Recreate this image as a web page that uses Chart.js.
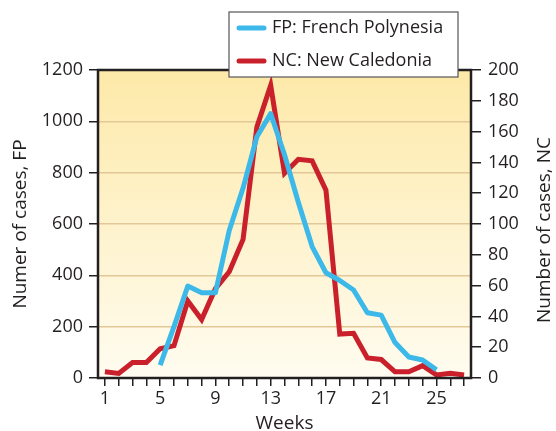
<!DOCTYPE html>
<html>
<head>
<meta charset="utf-8">
<script src="https://cdn.jsdelivr.net/npm/chart.js@4.4.1/dist/chart.umd.min.js"></script>
<style>
  html, body { margin: 0; padding: 0; background: #ffffff; }
  #wrap { width: 556px; height: 431px; position: relative; }
</style>
</head>
<body>
<div id="wrap"><canvas id="c" width="556" height="431"></canvas></div>
<script>
// ---- data ----
const weeks = [1,2,3,4,5,6,7,8,9,10,11,12,13,14,15,16,17,18,19,20,21,22,23,24,25,26,27];
const fpWeeks = [5,6,7,8,9,10,11,12,13,14,15,16,17,18,19,20,21,22,23,24,25];
const fpCases = [50,200,358,332,332,575,740,940,1030,870,685,512,410,380,343,254,245,138,82,70,32];
const ncCases = [4,3,10,10,19,21,50,38,58,69,90,163,190,133,142,141,122,28.5,29,13,12,4,4,8,2,3,2];
const weekTickLabels = [1,5,9,13,17,21,25];
const fpTicks = [0,200,400,600,800,1000,1200];
const ncTicks = [0,20,40,60,80,100,120,140,160,180,200];
const seriesLabels = ['FP: French Polynesia', 'NC: New Caledonia'];
const axisTitles = { x: 'Weeks', y: 'Numer of cases, FP', y1: 'Number of cases, NC' };

const FONT = '"Open Sans", "Noto Sans", sans-serif';
const INK = '#231f20';

const bgPlugin = {
  id: 'bg',
  beforeDraw(chart) {
    const {ctx, chartArea: a} = chart;
    const g = ctx.createLinearGradient(0, a.top, 0, a.bottom);
    g.addColorStop(0, '#fde9a8');
    g.addColorStop(1, '#fffcf0');
    ctx.save();
    ctx.fillStyle = g;
    ctx.fillRect(a.left, a.top, a.right - a.left, a.bottom - a.top);
    ctx.restore();
  },
  afterDatasetsDraw(chart) {
    const {ctx, chartArea: a} = chart;
    ctx.save();
    ctx.strokeStyle = INK;
    ctx.lineWidth = 2.5;
    ctx.strokeRect(a.left, a.top, a.right - a.left, a.bottom - a.top);
    ctx.restore();
  }
};

// right-axis title, reading bottom-to-top like the reference
const rightTitlePlugin = {
  id: 'rightTitle',
  afterDraw(chart) {
    const ctx = chart.ctx;
    const a = chart.chartArea;
    ctx.save();
    ctx.translate(545, (a.top + a.bottom) / 2 + 6);
    ctx.rotate(-Math.PI / 2);
    ctx.font = '19px ' + FONT;
    ctx.fillStyle = INK;
    ctx.textAlign = 'center';
    ctx.textBaseline = 'middle';
    ctx.fillText(axisTitles.y1, 0, 0);
    ctx.restore();
  }
};

const legendPlugin = {
  id: 'boxLegend',
  afterDraw(chart) {
    const ctx = chart.ctx;
    const x = 229, y = 12, w = 229, h = 65;
    ctx.save();
    ctx.fillStyle = '#ffffff';
    ctx.fillRect(x, y, w, h);
    ctx.strokeStyle = '#555555';
    ctx.lineWidth = 1.2;
    ctx.strokeRect(x, y, w, h);
    ctx.font = '18px ' + FONT;
    ctx.textBaseline = 'middle';
    ctx.textAlign = 'left';
    chart.data.datasets.forEach((ds, i) => {
      const cy = y + 16 + i * 33;
      ctx.strokeStyle = ds.borderColor;
      ctx.lineWidth = 5;
      ctx.lineCap = 'round';
      ctx.beginPath();
      ctx.moveTo(239, cy);
      ctx.lineTo(264, cy);
      ctx.stroke();
      ctx.fillStyle = INK;
      ctx.fillText(ds.label, 272, cy);
    });
    ctx.restore();
  }
};

new Chart(document.getElementById('c'), {
  type: 'line',
  data: {
    datasets: [
      {
        label: seriesLabels[0],
        data: fpWeeks.map((w, i) => ({x: w, y: fpCases[i]})),
        borderColor: '#3cb9e9',
        borderWidth: 5,
        pointRadius: 0,
        tension: 0,
        fill: false,
        yAxisID: 'y',
        borderJoinStyle: 'round'
      },
      {
        label: seriesLabels[1],
        data: weeks.map((w, i) => ({x: w, y: ncCases[i]})),
        borderColor: '#c9202b',
        borderWidth: 5,
        pointRadius: 0,
        tension: 0,
        fill: false,
        yAxisID: 'y1',
        borderJoinStyle: 'miter'
      }
    ]
  },
  options: {
    responsive: false,
    animation: false,
    layout: { padding: { top: 70, left: 0, right: 0, bottom: 0 } },
    plugins: { legend: { display: false }, tooltip: { enabled: false } },
    scales: {
      x: {
        type: 'linear',
        min: 0.5, max: 27.5,
        afterBuildTicks(s) { s.ticks = weeks.map(v => ({value: v})); },
        afterFit(s) { s.height = 53; },
        grid: { drawOnChartArea: false, tickLength: 8, tickColor: INK, lineWidth: 1.5 },
        border: { display: false },
        ticks: {
          autoSkip: false, maxRotation: 0, padding: 2,
          color: INK, font: { family: FONT, size: 18 },
          callback: v => weekTickLabels.includes(v) ? String(v) : ''
        },
        title: { display: true, text: axisTitles.x, color: INK, font: { family: FONT, size: 19 }, padding: { top: 0, bottom: -4 } }
      },
      y: {
        position: 'left',
        min: 0, max: 1200,
        afterBuildTicks(s) { s.ticks = fpTicks.map(v => ({value: v})); },
        afterFit(s) { s.width = 98; },
        grid: { color: '#e3c797', lineWidth: 1.5, tickLength: 9, tickColor: INK, drawTicks: true },
        border: { display: false },
        ticks: { color: INK, padding: 6, font: { family: FONT, size: 18 }, callback: v => String(v) },
        title: { display: true, text: axisTitles.y, color: INK, font: { family: FONT, size: 19 }, padding: { top: 9, bottom: 0 } }
      },
      y1: {
        position: 'right',
        min: 0, max: 200,
        afterBuildTicks(s) { s.ticks = ncTicks.map(v => ({value: v})); },
        afterFit(s) { s.width = 85; },
        grid: { drawOnChartArea: false, tickLength: 10, tickColor: INK, lineWidth: 1.5 },
        border: { display: false },
        ticks: { color: INK, padding: 7, font: { family: FONT, size: 18 }, callback: v => String(v) },
        title: { display: false }
      }
    }
  },
  plugins: [bgPlugin, rightTitlePlugin, legendPlugin]
});
</script>
</body>
</html>
